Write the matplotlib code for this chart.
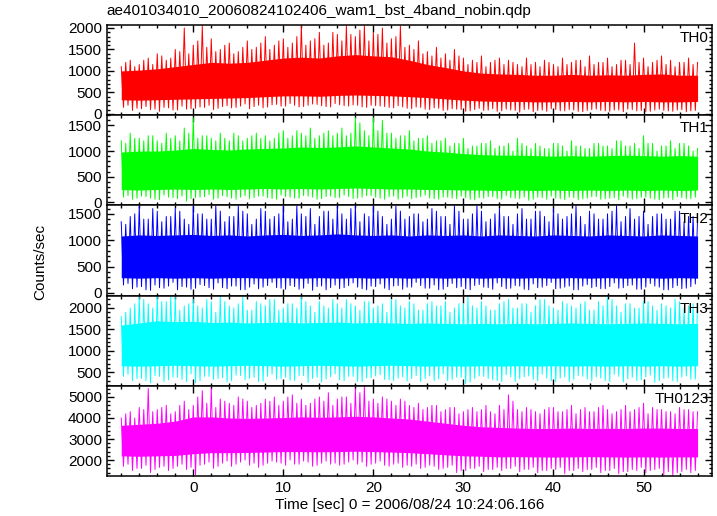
import numpy as np
import matplotlib
matplotlib.use('Agg')
import matplotlib.pyplot as plt
from matplotlib.ticker import MultipleLocator

plt.rcParams['font.family'] = ['Liberation Sans', 'DejaVu Sans']

title = "ae401034010_20060824102406_wam1_bst_4band_nobin.qdp"
xlabel = "Time [sec] 0 = 2006/08/24 10:24:06.166"
ylabel = "Counts/sec"
names = ["TH0", "TH1", "TH2", "TH3", "TH0123"]
colors = ["#ff0000", "#00ff00", "#0000ff", "#00ffff", "#ff00ff"]

# time grids (sec): 1 s for the spikes, 2 s for the dense band
t_spk = np.arange(-8, 57, 1)
t_core = np.arange(-8, 57, 2)

# upper spikes at whole seconds
th0_peak = [1100, 1250, 1150, 1300, 1400, 1250, 1500, 2000, 1600, 2050, 1750, 1500, 1650, 1450, 1700, 1550,
            1800, 1600, 1750, 1650, 2050, 1700, 1900, 1650, 1850, 2050, 1800, 2050, 1900, 2000, 1750, 2050,
            1600, 1700, 1450, 1550, 1400, 1500, 1300, 1250, 1350, 1200, 1300, 1250, 1150, 1300, 1200, 1250,
            1150, 1300, 1200, 1250, 1350, 1200, 1300, 1150, 1250, 1650, 1300, 1200, 1350, 1250, 1200, 1300, 1200]
th1_peak = [1200, 1350, 1250, 1300, 1200, 1350, 1300, 1450, 1650, 1300, 1250, 1350, 1200, 1300, 1250, 1350,
            1300, 1250, 1400, 1300, 1350, 1450, 1300, 1400, 1350, 1300, 1650, 1400, 1650, 1600, 1350, 1300,
            1400, 1250, 1300, 1200, 1250, 1150, 1250, 1100, 1150, 1200, 1100, 1150, 1250, 1100, 1150, 1050,
            1150, 1100, 1200, 1100, 1050, 1150, 1100, 1200, 1100, 1150, 1300, 1150, 1100, 1200, 1150, 1100, 1050]
th2_peak = [1350, 1450, 1650, 1400, 1550, 1450, 1600, 1400, 1650, 1500, 1400, 1550, 1450, 1650, 1500, 1400,
            1550, 1450, 1650, 1400, 1500, 1600, 1450, 1550, 1650, 1400, 1650, 1500, 1650, 1450, 1400, 1550,
            1450, 1500, 1400, 1550, 1450, 1650, 1400, 1500, 1550, 1400, 1600, 1450, 1500, 1400, 1550, 1450,
            1600, 1400, 1500, 1450, 1550, 1400, 1500, 1650, 1450, 1400, 1550, 1450, 1500, 1400, 1550, 1450, 1400]
th3_peak = [1800, 2000, 2250, 2100, 2280, 2150, 2250, 2050, 2200, 2000, 2150, 2280, 2050, 2100, 1950, 2150,
            2050, 2200, 2000, 2100, 2250, 2050, 2150, 2000, 2100, 2200, 2050, 2150, 2000, 2100, 2200, 2050,
            2150, 1950, 2100, 2050, 2150, 2000, 2100, 2050, 2150, 1950, 2100, 2200, 2000, 2100, 2050, 2200,
            2000, 2150, 2050, 2100, 1950, 2150, 2250, 2050, 2100, 2000, 2150, 2050, 2100, 2000, 2150, 2050, 2100]
th0123_peak = [4000, 4300, 4500, 5400, 4400, 4600, 4300, 4800, 4600, 5300, 5400, 4900, 4700, 5000, 4800, 4600,
               4900, 5000, 4800, 5100, 4900, 4700, 5000, 5200, 4900, 5000, 5400, 5500, 4900, 5000, 4800, 4900,
               4600, 4700, 4500, 4600, 4400, 4500, 4300, 4500, 4400, 4300, 4600, 5100, 4400, 4500, 4300, 4400,
               4500, 4300, 4600, 4400, 4300, 4500, 4400, 4300, 4600, 4400, 4700, 4500, 4400, 4300, 4500, 4400, 4300]

# upper spikes at half seconds (-7.5 ... 55.5)
th0_peak2 = [1200, 1100, 1250, 1150, 1350, 1300, 1450, 1400, 1700, 1550, 1450, 1600, 1400, 1550, 1500, 1650,
             1500, 1700, 1550, 1800, 1600, 1750, 1600, 1900, 1700, 1850, 1950, 1700, 1850, 1650, 1800, 1550,
             1500, 1400, 1350, 1300, 1250, 1350, 1150, 1200, 1100, 1250, 1150, 1200, 1100, 1150, 1100, 1200,
             1100, 1150, 1250, 1100, 1150, 1200, 1100, 1250, 1150, 1200, 1100, 1250, 1150, 1100, 1200, 1150]
th1_peak2 = [1150, 1250, 1200, 1300, 1150, 1250, 1200, 1350, 1250, 1300, 1200, 1250, 1350, 1200, 1300, 1250,
             1200, 1350, 1250, 1400, 1300, 1250, 1350, 1300, 1450, 1350, 1550, 1300, 1400, 1350, 1250, 1300,
             1200, 1250, 1150, 1200, 1100, 1150, 1050, 1100, 1150, 1050, 1100, 1000, 1150, 1050, 1100, 1050,
             1150, 1000, 1100, 1050, 1150, 1100, 1050, 1200, 1100, 1050, 1150, 1000, 1100, 1050, 1150, 1000]
th2_peak2 = [1300, 1500, 1400, 1600, 1350, 1450, 1550, 1300, 1500, 1400, 1650, 1350, 1450, 1550, 1300, 1600,
             1400, 1500, 1350, 1650, 1450, 1300, 1550, 1400, 1500, 1600, 1350, 1450, 1550, 1300, 1650, 1400,
             1500, 1350, 1600, 1450, 1300, 1550, 1400, 1650, 1350, 1500, 1450, 1300, 1600, 1400, 1550, 1350,
             1500, 1450, 1650, 1300, 1500, 1400, 1550, 1350, 1600, 1450, 1300, 1500, 1400, 1550, 1350, 1450]
th3_peak2 = [1900, 2100, 2200, 2000, 2150, 2280, 1950, 2100, 2050, 2200, 1900, 2150, 2000, 2250, 1950, 2100,
             2200, 1950, 2100, 2000, 2150, 1900, 2050, 2200, 2000, 2100, 1950, 2150, 2050, 1900, 2200, 2000,
             2100, 1950, 2150, 2050, 1900, 2100, 2250, 2000, 2050, 1950, 2150, 2000, 2100, 1900, 2200, 2050,
             1950, 2100, 2000, 2150, 1950, 2050, 2200, 1900, 2100, 2000, 2150, 1950, 2050, 2200, 2000, 2100]
th0123_peak2 = [4200, 4000, 4400, 4300, 4500, 4200, 4600, 4400, 5000, 4700, 4500, 4800, 4600, 4900, 4500, 4700,
                4800, 4600, 5000, 4700, 4600, 4900, 4800, 4600, 5000, 4700, 5200, 4800, 4700, 4900, 4600, 4800,
                4500, 4400, 4600, 4300, 4500, 4200, 4400, 4300, 4600, 4200, 4400, 4800, 4300, 4400, 4200, 4500,
                4300, 4400, 4200, 4500, 4300, 4600, 4200, 4400, 4300, 4500, 4200, 4400, 4300, 4200, 4400, 4300]

# lower spikes at +0.25 s
th0_dip = [150, 80, 120, 100, 60, 140, 90, 110, 130, 150, 100, 170, 140, 180, 120, 200,
           160, 220, 180, 200, 170, 230, 190, 160, 210, 180, 200, 150, 190, 170, 140, 160,
           120, 150, 100, 130, 90, 110, 60, 100, 80, 120, 70, 90, 40, 110, 80, 60,
           100, 70, 90, 50, 100, 80, 60, 90, 110, 70, 50, 90, 80, 60, 100, 70]
th1_dip = [100, 60, 120, 80, 50, 100, 70, 20, 90, 110, 60, 130, 80, 100, 70, 120,
           90, 60, 110, 80, 130, 100, 70, 120, 90, 110, 80, 130, 100, 60, 120, 90,
           70, 110, 80, 60, 100, 70, 90, 50, 80, 110, 60, 90, 70, 40, 100, 60,
           80, 50, 90, 70, 110, 60, 80, 50, 90, 70, 100, 60, 80, 50, 90, 70]
th2_dip = [150, 80, 120, 50, 100, 130, 60, 110, 90, 140, 70, 100, 130, 60, 110, 80,
           140, 100, 70, 120, 90, 50, 130, 100, 80, 140, 110, 60, 120, 90, 130, 70,
           110, 140, 90, 60, 120, 100, 80, 140, 110, 70, 120, 90, 130, 60, 100, 140,
           80, 110, 60, 130, 100, 80, 120, 90, 140, 70, 110, 130, 60, 100, 80, 120]
th3_dip = [400, 300, 350, 250, 400, 320, 380, 280, 250, 400, 330, 370, 300, 420, 350, 280,
           400, 330, 380, 300, 420, 350, 270, 390, 320, 400, 280, 360, 410, 330, 300, 390,
           350, 280, 410, 340, 300, 380, 230, 350, 400, 320, 280, 390, 340, 410, 300, 360,
           280, 390, 330, 400, 300, 360, 280, 400, 340, 300, 390, 260, 350, 300, 380, 330]
th0123_dip = [1700, 1500, 1600, 1400, 1650, 1500, 1700, 1550, 1300, 1800, 1600, 1850, 1700, 1900, 1750, 1650,
              1850, 1900, 1750, 1800, 1950, 1700, 1850, 1800, 1750, 1900, 1800, 1700, 1850, 1750, 1800, 1650,
              1700, 1600, 1750, 1550, 1650, 1400, 1500, 1600, 1450, 1550, 1500, 1600, 1450, 1550, 1400, 1500,
              1550, 1350, 1500, 1450, 1550, 1400, 1500, 1350, 1450, 1500, 1400, 1550, 1300, 1250, 1450, 1400]

# lower spikes at +0.75 s
th0_dip2 = [200, 130, 170, 110, 150, 90, 180, 120, 160, 200, 130, 190, 150, 230, 170, 140,
            210, 180, 240, 160, 200, 220, 170, 240, 190, 210, 160, 200, 180, 150, 190, 130,
            160, 110, 140, 80, 120, 100, 70, 130, 90, 60, 110, 80, 100, 50, 90, 120,
            70, 100, 60, 80, 110, 70, 90, 50, 100, 80, 60, 110, 70, 90, 50, 80]
th1_dip2 = [130, 80, 110, 60, 140, 90, 120, 70, 100, 150, 80, 110, 60, 130, 90, 120,
            70, 140, 100, 80, 120, 60, 110, 90, 140, 70, 100, 130, 80, 110, 60, 120,
            90, 140, 70, 100, 80, 120, 60, 90, 110, 70, 130, 80, 100, 60, 90, 120,
            70, 100, 50, 80, 110, 70, 90, 120, 60, 100, 80, 50, 90, 110, 70, 100]
th2_dip2 = [180, 110, 60, 150, 90, 200, 120, 70, 160, 100, 190, 80, 130, 60, 170, 110,
            200, 90, 140, 70, 180, 120, 60, 150, 100, 190, 80, 130, 170, 60, 140, 110,
            200, 90, 150, 70, 180, 120, 60, 160, 100, 190, 80, 140, 70, 170, 110, 200,
            90, 130, 60, 160, 120, 80, 190, 100, 150, 70, 180, 110, 60, 140, 90, 170]
th3_dip2 = [450, 350, 300, 420, 280, 380, 330, 460, 300, 400, 350, 270, 430, 320, 380, 290,
            450, 350, 310, 420, 260, 380, 340, 460, 300, 400, 280, 370, 440, 320, 360, 290,
            420, 350, 300, 460, 330, 380, 270, 410, 350, 300, 440, 280, 390, 330, 450, 300,
            360, 280, 420, 340, 390, 300, 450, 270, 380, 320, 430, 300, 370, 280, 410, 340]
th0123_dip2 = [1800, 1600, 1750, 1550, 1700, 1600, 1800, 1650, 1750, 1900, 1700, 1950, 1800, 2000, 1850, 1750,
               1950, 1850, 2000, 1800, 1900, 1750, 1950, 1850, 1800, 2000, 1900, 1800, 1950, 1700, 1850, 1750,
               1800, 1650, 1700, 1600, 1750, 1500, 1600, 1700, 1550, 1650, 1600, 1700, 1550, 1650, 1500, 1600,
               1650, 1500, 1600, 1550, 1650, 1500, 1600, 1450, 1550, 1650, 1500, 1600, 1450, 1400, 1550, 1500]

# dense band (every 2 s)
th0_lo = [330, 320, 330, 340, 350, 360, 370, 380, 400, 420, 420, 410, 430, 440, 430, 420, 400,
          380, 350, 320, 300, 290, 290, 280, 280, 290, 280, 290, 280, 290, 280, 280, 290]
th0_hi = [1000, 1020, 1050, 1100, 1150, 1200, 1180, 1200, 1250, 1300, 1320, 1300, 1350, 1380, 1350, 1330, 1250,
          1150, 1080, 1000, 950, 930, 920, 900, 900, 920, 900, 910, 900, 920, 930, 900, 900]
th1_lo = [250, 240, 250, 260, 250, 260, 250, 260, 270, 260, 270, 260, 270, 280, 270, 260, 260,
          250, 250, 240, 240, 230, 240, 230, 240, 230, 240, 230, 240, 230, 240, 230, 240]
th1_hi = [980, 1000, 1000, 1020, 1050, 1030, 1020, 1040, 1050, 1060, 1080, 1070, 1080, 1100, 1080, 1060, 1040,
          1000, 980, 950, 930, 920, 920, 910, 900, 910, 900, 910, 920, 910, 900, 910, 900]
th2_lo = [290, 280, 290, 280, 290, 280, 290, 290, 280, 290, 280, 290, 280, 290, 280, 290, 280,
          290, 280, 290, 280, 290, 280, 290, 280, 290, 280, 290, 280, 290, 280, 290, 280]
th2_hi = [1080, 1100, 1090, 1100, 1110, 1090, 1100, 1080, 1100, 1110, 1090, 1100, 1120, 1100, 1090, 1100, 1080,
          1100, 1090, 1100, 1080, 1100, 1090, 1080, 1100, 1090, 1080, 1100, 1090, 1080, 1100, 1090, 1080]
th3_lo = [650, 640, 650, 660, 650, 640, 650, 660, 650, 640, 650, 660, 650, 640, 650, 660, 650,
          640, 650, 640, 650, 640, 650, 640, 650, 640, 650, 640, 650, 640, 650, 640, 650]
th3_hi = [1600, 1650, 1700, 1680, 1690, 1660, 1670, 1650, 1660, 1670, 1650, 1660, 1670, 1650, 1660, 1650, 1640,
          1650, 1640, 1630, 1640, 1630, 1640, 1630, 1640, 1650, 1640, 1630, 1640, 1650, 1640, 1630, 1640]
th0123_lo = [2200, 2180, 2200, 2220, 2300, 2350, 2350, 2360, 2380, 2400, 2400, 2390, 2400, 2420, 2400, 2380, 2350,
             2300, 2250, 2200, 2180, 2150, 2160, 2150, 2140, 2150, 2160, 2150, 2140, 2150, 2140, 2150, 2150]
th0123_hi = [3650, 3700, 3750, 3850, 4050, 4050, 4000, 3980, 4000, 4020, 4050, 4030, 4050, 4080, 4050, 4000, 3950,
             3850, 3750, 3650, 3580, 3550, 3520, 3500, 3500, 3520, 3500, 3510, 3500, 3520, 3520, 3500, 3500]

peaks = [th0_peak, th1_peak, th2_peak, th3_peak, th0123_peak]
peaks2 = [th0_peak2, th1_peak2, th2_peak2, th3_peak2, th0123_peak2]
dips = [th0_dip, th1_dip, th2_dip, th3_dip, th0123_dip]
dips2 = [th0_dip2, th1_dip2, th2_dip2, th3_dip2, th0123_dip2]
lows = [th0_lo, th1_lo, th2_lo, th3_lo, th0123_lo]
highs = [th0_hi, th1_hi, th2_hi, th3_hi, th0123_hi]

ylims = [(-30, 2070), (-60, 1700), (-50, 1660), (180, 2290), (1240, 5530)]
yticks = [[0, 500, 1000, 1500, 2000], [0, 500, 1000, 1500], [0, 500, 1000, 1500],
          [500, 1000, 1500, 2000], [2000, 3000, 4000, 5000]]

fig, axes = plt.subplots(5, 1, sharex=True, figsize=(7.17, 5.16), dpi=100)
fig.subplots_adjust(left=0.149, right=0.993, top=0.9516, bottom=0.0775, hspace=0)

n = len(t_spk)
for i, ax in enumerate(axes):
    c = colors[i]
    ax.fill_between(t_core, lows[i], highs[i], color=c, lw=0)
    # zigzag through the spikes: peak, dip, peak2, dip2 every second
    xs = np.empty(4 * (n - 1) + 1)
    ys = np.empty(4 * (n - 1) + 1)
    xs[0::4] = t_spk
    xs[1::4] = t_spk[:-1] + 0.25
    xs[2::4] = t_spk[:-1] + 0.5
    xs[3::4] = t_spk[:-1] + 0.75
    ys[0::4] = peaks[i]
    ys[1::4] = dips[i]
    ys[2::4] = peaks2[i]
    ys[3::4] = dips2[i]
    ax.plot(xs, ys, color=c, lw=0.7)

    ax.set_ylim(*ylims[i])
    ax.set_yticks(yticks[i])
    step = yticks[i][1] - yticks[i][0]
    ax.yaxis.set_minor_locator(MultipleLocator(step / 5))
    ax.xaxis.set_major_locator(MultipleLocator(10))
    ax.xaxis.set_minor_locator(MultipleLocator(2))
    ax.tick_params(which='both', direction='in', top=True, right=True, labelsize=11, width=1)
    ax.tick_params(which='major', length=5)
    ax.tick_params(which='minor', length=2.5)
    for s in ax.spines.values():
        s.set_linewidth(1.1)
    ax.text(0.995, 0.93, names[i], transform=ax.transAxes, ha='right', va='top', fontsize=11)

axes[-1].set_xlim(-9.6, 57.6)
axes[-1].set_xlabel(xlabel, fontsize=11, labelpad=2)
fig.text(0.149, 0.965, title, fontsize=11, ha='left', va='bottom')
fig.text(0.056, 0.492, ylabel, fontsize=11, rotation=90, ha='center', va='center')

fig.savefig('out.png', dpi=100)
